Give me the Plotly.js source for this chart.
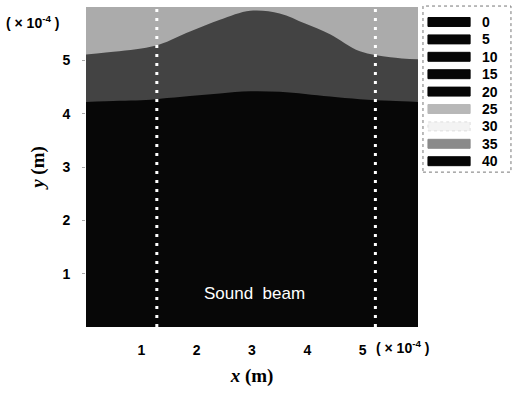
<!DOCTYPE html>
<html><head><meta charset="utf-8">
<script src="https://cdn.plot.ly/plotly-3.0.1.min.js"></script>
<style>html,body{margin:0;padding:0;background:#fff}#chart{width:513px;height:395px}</style>
</head><body><div id="chart"></div>
<script>
// x positions (×10^-4 m)
const xs = [0, 0.6, 1.0, 1.34, 1.88, 2.42, 2.97, 3.5, 3.96, 4.41, 4.95, 5.5, 6.0];
// upper boundary of the mid-gray band (×10^-4 m)
const midTop = [5.11, 5.17, 5.22, 5.30, 5.54, 5.76, 5.93, 5.88, 5.69, 5.49, 5.17, 5.06, 5.02];
// upper boundary of the black region (×10^-4 m)
const blackTop = [4.22, 4.24, 4.25, 4.28, 4.33, 4.38, 4.42, 4.41, 4.37, 4.32, 4.27, 4.24, 4.22];
// sound beam edges (×10^-4 m)
const beamEdges = [1.28, 5.23];
// legend
const legendLabels = ['0','5','10','15','20','25','30','35','40'];
const legendColors = ['#060606','#060606','#060606','#060606','#060606','#b8b8b8','#f3f3f3','#8a8a8a','#060606'];
const xTicks = [1,2,3,4,5];
const yTicks = [1,2,3,4,5];

const lightGray = '#ababab', midGray = '#434343', black = '#070707';

const traces = [
  {x: xs, y: midTop, type:'scatter', mode:'lines', line:{width:0, shape:'spline'}, fill:'tozeroy', fillcolor: midGray, hoverinfo:'skip', showlegend:false},
  {x: xs, y: blackTop, type:'scatter', mode:'lines', line:{width:0, shape:'spline'}, fill:'tozeroy', fillcolor: black, hoverinfo:'skip', showlegend:false}
];
beamEdges.forEach(b => traces.push({x:[b,b], y:[0,6], type:'scatter', mode:'lines', line:{color:'#ffffff', width:3, dash:'3px,6px'}, hoverinfo:'skip', showlegend:false}));

const shapes = [{type:'rect', xref:'paper', yref:'paper', x0:1.015, x1:1.28, y0:0.484, y1:1.003, line:{color:'#777', width:1, dash:'dot'}, fillcolor:'rgba(0,0,0,0)'}];
const annotations = [];
const lblFont = {family:'Liberation Sans, Arial', size:14, color:'#000', weight:'bold'};
legendLabels.forEach((lab, i) => {
  const py = 22 + 17.4*i;
  const yc = (327 - py)/320;
  shapes.push({type:'rect', xref:'paper', yref:'paper', x0:1.030, x1:1.157, y0:yc-0.014, y1:yc+0.014, line:{color: i===6 ? '#dddddd' : legendColors[i], width:1, dash: i===6?'dot':'solid'}, fillcolor: legendColors[i]});
  annotations.push({xref:'paper', yref:'paper', x:1.187, y:yc, text:lab, showarrow:false, xanchor:'left', yanchor:'middle', font:lblFont});
});
annotations.push({xref:'x', yref:'y', x:3.05, y:0.63, text:'Sound  beam', showarrow:false, font:{family:'Liberation Sans, Arial', size:17, color:'#ffffff'}});
annotations.push({xref:'paper', yref:'paper', x:-0.247, y:0.952, text:'( × 10<sup>-4</sup> )', showarrow:false, xanchor:'left', yanchor:'middle', font:{family:'Liberation Sans, Arial', size:14, color:'#000', weight:'bold'}});
annotations.push({xref:'paper', yref:'paper', x:0.866, y:-0.064, text:'( × 10<sup>-4</sup> )', showarrow:false, xanchor:'left', yanchor:'middle', font:{family:'Liberation Sans, Arial', size:14, color:'#000', weight:'bold'}});

const layout = {
  width:513, height:395,
  margin:{l:86, r:95, t:7, b:68},
  paper_bgcolor:'#ffffff', plot_bgcolor: lightGray,
  showlegend:false,
  xaxis:{range:[0,6], tickvals:xTicks, ticktext:xTicks.map(String), showgrid:false, zeroline:false, ticks:'', ticklabelstandoff:13, tickfont:lblFont, title:{text:'<i>x</i> (m)', font:{family:'Liberation Serif, Times New Roman', size:19, color:'#000', weight:'bold'}, standoff:11}, showline:false, fixedrange:true},
  yaxis:{range:[0,6], tickvals:yTicks, ticktext:yTicks.map(String), showgrid:false, zeroline:false, ticks:'outside', ticklen:3, tickcolor:'#aaa', ticklabelstandoff:9, tickfont:lblFont, title:{text:'<i>y</i> (m)', font:{family:'Liberation Serif, Times New Roman', size:19, color:'#000', weight:'bold'}, standoff:12}, showline:false, fixedrange:true},
  shapes: shapes,
  annotations: annotations
};
Plotly.newPlot('chart', traces, layout, {displayModeBar:false, staticPlot:true});
</script></body></html>
